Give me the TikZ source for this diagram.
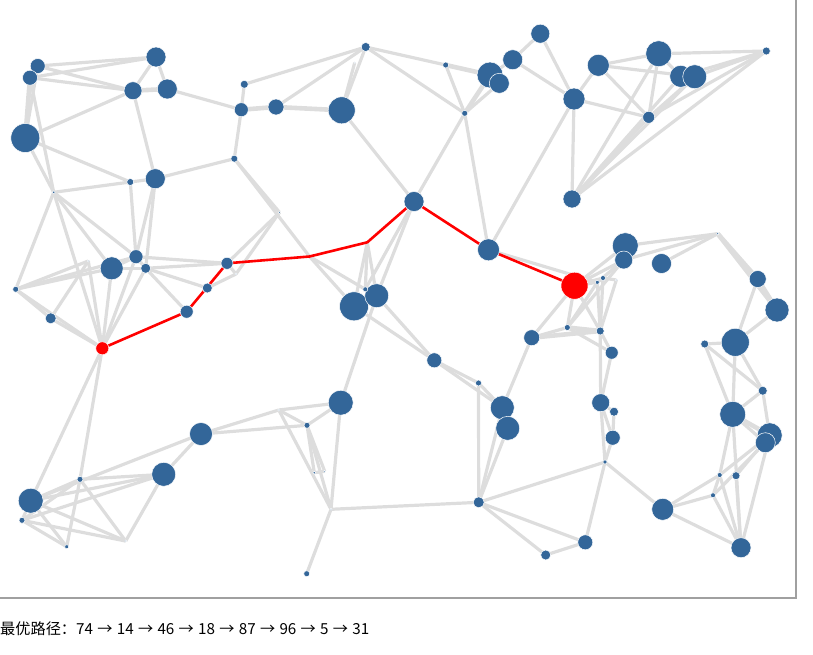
\documentclass[tikz,border=0pt]{standalone}
\usepackage{fontspec}
\newfontfamily\cjk{Noto Sans CJK SC}
\usepackage{tikz}

\definecolor{nodeblue}{RGB}{51,102,153}
\definecolor{edgegray}{RGB}{221,221,221}
\definecolor{framegray}{RGB}{160,160,160}

\tikzset{
  edge/.style={draw=edgegray, line width=3.2pt},
  wideedge/.style={draw=edgegray, line width=4.6pt},
  bestpath/.style={draw=red, line width=2.6pt, line join=round},
  dot/.style={fill=nodeblue, draw=white, line width=0.5pt},
  reddot/.style={fill=red, draw=white, line width=0.5pt}
}

\begin{document}
\begin{tikzpicture}[x=1pt, y=-1pt]
    \useasboundingbox (0,0) rectangle (813,654);

    % frame of the plot area
    \draw[framegray, line width=1.2pt] (796,0) -- (796,598) -- (0,598);

    % node positions, top left group
    \coordinate (a1) at (37.7,66);
    \coordinate (a2) at (30,77.7);
    \coordinate (a3) at (156,57);
    \coordinate (a4) at (133,90.7);
    \coordinate (a5) at (167.3,89);
    \coordinate (a6) at (25.3,138);
    \coordinate (a7) at (244.3,84.3);
    \coordinate (a8) at (241.3,109.7);
    \coordinate (a9) at (276,107);
    \coordinate (a10) at (234.3,158.7);
    \coordinate (a11) at (155.3,178.7);
    \coordinate (a12) at (130.3,182);
    \coordinate (a13) at (53.7,192.3);
    \coordinate (a14) at (279.5,212.3);

    % top middle group
    \coordinate (b1) at (365.7,47);
    \coordinate (b2) at (354.7,62.7);
    \coordinate (b4) at (341.7,110.3);
    \coordinate (b5) at (445.7,65);
    \coordinate (b6) at (464.7,113.3);
    \coordinate (b7) at (490,75);
    \coordinate (b8) at (499.3,83.3);
    \coordinate (b9) at (512.7,59.7);
    \coordinate (b10) at (540.3,33.7);
    \coordinate (b11) at (414,201.5);
    \coordinate (b13) at (488.5,249.8);

    % top right group
    \coordinate (c2) at (598.3,65.3);
    \coordinate (c3) at (658.7,53.7);
    \coordinate (c4) at (680.7,76.3);
    \coordinate (c5) at (694.7,76.7);
    \coordinate (c6) at (766.3,51);
    \coordinate (c7) at (574,99);
    \coordinate (c8) at (648.7,117.3);
    \coordinate (c9) at (572,199);

    % middle left group
    \coordinate (d2) at (136,256.7);
    \coordinate (d3) at (111.7,268.3);
    \coordinate (d4) at (145.7,268.3);
    \coordinate (d5) at (15.7,289.3);
    \coordinate (d6) at (50.7,318.3);
    \coordinate (d7) at (102.3,348.3);
    \coordinate (d8) at (186.7,311.7);
    \coordinate (d9) at (207.3,288);
    \coordinate (d10) at (227,263.3);
    \coordinate (d11) at (236,274);
    \coordinate (d12) at (88.3,261);

    % centre group
    \coordinate (e2) at (309.5,256.5);
    \coordinate (e3) at (367.3,242.3);
    \coordinate (e4) at (354,306.3);
    \coordinate (e5) at (376.7,295.7);
    \coordinate (e6) at (365.3,289.3);
    \coordinate (e7) at (434.3,360.3);
    \coordinate (e8) at (478.5,383);
    \coordinate (e9) at (531.7,337.7);

    % middle right group
    \coordinate (red) at (574.5,285.7);
    \coordinate (f2) at (625.3,245.7);
    \coordinate (f3) at (623.7,260);
    \coordinate (f4) at (661.5,263.5);
    \coordinate (f5) at (717.7,233.7);
    \coordinate (f6) at (757.7,279);
    \coordinate (f7) at (777,310);
    \coordinate (f8) at (735.3,342.3);
    \coordinate (f9) at (704.7,344);
    \coordinate (f10) at (597.3,282.3);
    \coordinate (f11) at (603,278);
    \coordinate (f12) at (616.3,280);
    \coordinate (f13) at (567.3,327.5);
    \coordinate (f14) at (600.2,331);
    \coordinate (f15) at (611.7,352.7);

    % bottom left group
    \coordinate (g1) at (30.7,500.7);
    \coordinate (g2) at (22,520.3);
    \coordinate (g3) at (80,479.3);
    \coordinate (g4) at (66.7,546.7);
    \coordinate (g5) at (125.7,541);
    \coordinate (g6) at (163.7,474.3);
    \coordinate (g7) at (201,434);
    \coordinate (g8) at (278.8,410);

    % bottom middle group
    \coordinate (h1) at (340.7,402.7);
    \coordinate (h3) at (307,425.3);
    \coordinate (h4) at (314.3,472.7);
    \coordinate (h5) at (324.7,471.3);
    \coordinate (h6) at (331,509.3);
    \coordinate (h7) at (306.7,573.7);
    \coordinate (h9) at (502.3,407.7);
    \coordinate (h10) at (507.7,428.3);
    \coordinate (h11) at (478.7,502.3);

    % bottom right group
    \coordinate (i1) at (600.7,402.7);
    \coordinate (i2) at (614,411.7);
    \coordinate (i3) at (612.7,437.7);
    \coordinate (i4) at (605,462);
    \coordinate (i5) at (585.3,542.3);
    \coordinate (i6) at (545.7,555);
    \coordinate (i7) at (662.7,509.3);
    \coordinate (i8) at (732.7,414.3);
    \coordinate (i9) at (762.7,390.7);
    \coordinate (i10) at (769.7,435.3);
    \coordinate (i11) at (765.3,442.7);
    \coordinate (i12) at (719.7,475);
    \coordinate (i13) at (736,475.7);
    \coordinate (i14) at (713,495.3);
    \coordinate (i15) at (741,547.7);

    % grey links
    \foreach \p/\q in {a1/a2, a1/a3, a2/a3, a1/a4, a2/a4, a3/a4, a3/a5, a1/a6,
        a6/a4, a2/a13, a6/a13, a6/a12, a12/a11, a13/a12, a4/a11, a5/a8, a7/a8,
        a8/a10, a10/a11, a10/a14, a7/b1, a9/b1, b4/b1, b2/b4, b1/b5, b1/b6,
        b5/b6, b6/b8, b7/b9, b9/b10, b4/b11, b6/b11, b6/b13, c7/b13, b10/c7,
        b9/c7, c7/c2, c7/c8, c7/c9, c2/c3, c2/c5, c2/c8, c3/c6, c3/c4, c3/c8,
        c3/c9, c4/c6, c5/c6, c5/c8, c6/c8, c9/c8, c9/c4, c9/c5, c9/c6}
        \draw[edge] (\p) -- (\q);
    \foreach \p/\q in {a13/d5, a13/d3, a13/d2, a13/d7, a12/d2, a11/d2, a11/d4,
        d2/d3, d3/d4, d2/d4, d5/d3, d5/d12, d5/d2, d5/d6, d5/d7, d6/d7, d6/d12,
        d7/d12, d7/d3, d7/d2, d7/d4, d2/d10, d4/d10, d4/d8, d4/d9, d10/d11,
        d9/d11, d10/a14, d11/a14, d7/g1, d7/g3}
        \draw[edge] (\p) -- (\q);
    \foreach \p/\q in {a10/e2, e2/e6, e2/e4, b11/e5, b11/e6, e3/e4, e3/e5, e3/e6,
        e4/e7, e5/e7, e7/e8, e7/h9, e8/h9, e9/h9, h1/e5}
        \draw[edge] (\p) -- (\q);
    \foreach \p/\q in {red/f2, red/f3, f3/f10, red/f10, red/f11, f10/f11, f11/f12,
        red/f13, red/f14, red/e9, b13/f10, f3/f13, f10/f13, f10/f14, f11/f14,
        f12/f14, e9/f13, f13/f15, f14/f15, f14/i1, f15/i1, f2/f5, f3/f5,
        f4/f5, f6/f8, f7/f8, f8/f9, f8/i8, f9/i8, f9/i9, f8/i9}
        \draw[edge] (\p) -- (\q);
    \foreach \p/\q in {g1/g3, g1/g6, g1/g7, g1/g5, g1/g4, g1/g2, g2/g3, g2/g6,
        g2/g4, g2/g5, g3/g6, g3/g4, g3/g5, g5/g6, g6/g7, g7/g8, g7/h3, g8/h1,
        g8/h3, g8/h6, h1/h3, h1/h6, h3/h6, h3/h5, h4/h5, h3/h4, h6/h11, h6/h7,
        e8/h11, h9/h10, h9/h11, h10/h11, h11/i4, h11/i5, h11/i6}
        \draw[edge] (\p) -- (\q);
    \foreach \p/\q in {i1/i3, i2/i3, i1/i2, i1/i4, i3/i4, i4/i5, i4/i7, i5/i6,
        i7/i12, i7/i14, i7/i15, i14/i12, i14/i15, i12/i15, i13/i15, i12/i10,
        i13/i10, i8/i9, i8/i11, i8/i15, i8/i12, i9/i10, i10/i15, i14/i11}
        \draw[edge] (\p) -- (\q);

    % heavier grey links
    \foreach \p/\q in {a2/a6, a4/a5, a8/a9, a9/b4, b5/b7, b6/b7, f5/f6, f5/f7,
        f6/f7, f13/f14, e9/f14, i8/i10}
        \draw[wideedge] (\p) -- (\q);

    % best path 74 -> 14 -> 46 -> 18 -> 87 -> 96 -> 5 -> 31
    \draw[bestpath] (d7) -- (d8) -- (d10) -- (e2) -- (e3) -- (b11) -- (b13) -- (red);

    % blue nodes, sized by weight
    \foreach \n/\r in {a1/7.5, a2/7.5, a3/10, a4/9, a5/10, a6/14.5, a7/4, a8/7,
        a9/8, a10/3.5, a11/10, a12/3.5, a13/1.5, a14/1.2,
        b1/4.5, b2/0.8, b4/13.5, b5/3, b6/3, b7/13, b8/10, b9/10, b10/9.5,
        b11/10, b13/11,
        c2/11, c3/13, c4/11, c5/12, c6/4, c7/11, c8/6, c9/9,
        d2/7, d3/11.5, d4/5, d5/3, d6/5.5, d8/6.5, d9/5, d10/6, d11/1, d12/1,
        e4/14.5, e5/12, e6/2.5, e7/7.5, e8/3, e9/8,
        f2/13, f3/9, f4/10, f5/1.3, f6/8.5, f7/12, f8/14, f9/4, f10/2, f11/2.5,
        f12/1, f13/3, f14/4, f15/6.5,
        g1/12.5, g2/3, g3/3, g4/2, g5/1, g6/12, g7/11.5, g8/1,
        h1/12.5, h3/3, h4/1.5, h5/1, h6/1, h7/3, h9/12, h10/12, h11/5.5,
        i1/9, i2/4.5, i3/7.5, i4/2, i5/7.5, i6/5, i7/11, i8/13, i9/4.5,
        i10/12.5, i11/10, i12/2.5, i13/4, i14/2.5, i15/10}
        \filldraw[dot] (\n) circle [radius=\r];

    % start and end of the best path
    \filldraw[reddot] (d7) circle [radius=6.5];
    \filldraw[reddot] (red) circle [radius=13.5];

    % caption below the plot
    \node[anchor=base west, inner sep=0pt, font=\cjk\fontsize{15.2}{18}\selectfont]
        (caption) at (0,634) {\spaceskip=4.3pt 最优路径：74 → 14 → 46 → 18 → 87 → 96 → 5 → 31};

\end{tikzpicture}
\end{document}
